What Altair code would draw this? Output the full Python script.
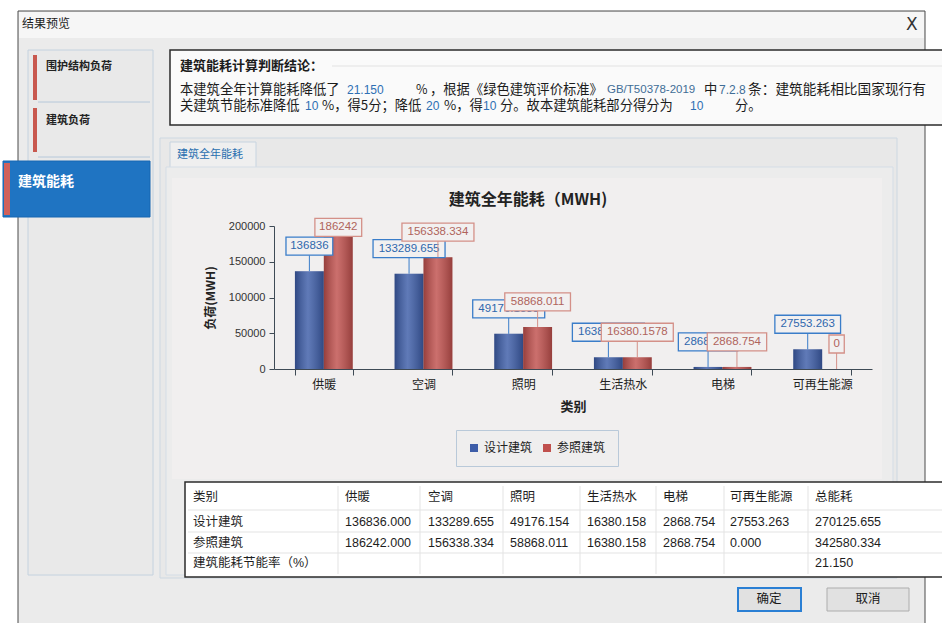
import altair as alt
import pandas as pd

# ---------------- data ----------------
categories = ["供暖", "空调", "照明", "生活热水", "电梯", "可再生能源"]
series = ["设计建筑", "参照建筑"]
design = [136836, 133289.655, 49176.1538, 16380.1578, 2868.754, 27553.263]
reference = [186242, 156338.334, 58868.011, 16380.1578, 2868.754, 0]
table_header = ["类别", "供暖", "空调", "照明", "生活热水", "电梯", "可再生能源", "总能耗"]
row_names = ["设计建筑", "参照建筑", "建筑能耗节能率（%）"]
design_total = 270125.655
reference_total = 342580.334
saving_rate = 21.150
y_ticks = [0, 50000, 100000, 150000, 200000]

# ---------------- layout ----------------
OX, OY = 274, 226          # plot origin in page pixels
PW, PH = 598, 143          # plot size
CJK = "Noto Sans CJK SC"
LAT = "Liberation Sans"
BLACK = "#1c1c1c"
BLUE_T = "#2e6fb4"

one = pd.DataFrame({"k": [0]})


def box(x0, y0, x1, y1, fill, stroke=None, sw=1.0, opacity=1.0):
    kw = dict(fill=fill, fillOpacity=opacity)
    if stroke:
        kw.update(stroke=stroke, strokeWidth=sw)
    return alt.Chart(one).mark_rect(**kw).encode(
        x=alt.value(x0 - OX), x2=alt.value(x1 - OX),
        y=alt.value(y0 - OY), y2=alt.value(y1 - OY))


def line(x0, y0, x1, y1, color, sw=1.0):
    return alt.Chart(one).mark_rule(color=color, strokeWidth=sw).encode(
        x=alt.value(x0 - OX), x2=alt.value(x1 - OX),
        y=alt.value(y0 - OY), y2=alt.value(y1 - OY))


def label(s, x, y, size=12, color=BLACK, weight="normal", align="left", font=CJK):
    return alt.Chart(one).mark_text(
        text=s, align=align, baseline="middle", fontSize=size, color=color,
        fontWeight=weight, font=font).encode(x=alt.value(x - OX), y=alt.value(y - OY))


chrome = []
# dialog
chrome.append(box(18, 11, 925, 640, "#ebebeb", "#4a4a4a", 1))
chrome.append(box(19, 12, 924, 38, "#f6f6f6"))
chrome.append(label("结果预览", 22, 24, 12))
chrome.append(label("X", 906, 25, 17, "#333333", font="DejaVu Sans"))
# left navigation
chrome.append(box(28, 50, 153, 575, "#e9e9e9", "#c4d2df", 1))
chrome.append(box(33, 55, 37, 100, "#c8584e"))
chrome.append(label("围护结构负荷", 46, 67, 11, "#222222", "bold"))
chrome.append(line(38, 102, 150, 102, "#b6c8da"))
chrome.append(box(33, 108, 37, 152, "#c8584e"))
chrome.append(label("建筑负荷", 46, 121, 11, "#222222", "bold"))
chrome.append(line(38, 157, 150, 157, "#b6c8da"))
chrome.append(box(3, 161, 150, 217, "#1f74c2", "#1667b2", 1))
chrome.append(box(4, 163, 10, 215, "#d0605a"))
chrome.append(label("建筑能耗", 18, 182, 14, "#ffffff", "bold"))
# conclusion box
chrome.append(box(170, 50, 946, 125, "#fafafa", "#2b2b2b", 1.5))
chrome.append(label("建筑能耗计算判断结论：", 180, 66, 13, BLACK, "bold"))
chrome.append(line(332, 66, 942, 66, "#e2e2e2"))
L2, L3 = 90, 106
FS = 13.3
chrome += [
    label("本建筑全年计算能耗降低了", 180, L2, FS),
    label("21.150", 347, L2, 12, BLUE_T, font=LAT),
    label("%", 416, L2, 12.5),
    label("，根据《绿色建筑评价标准》", 430, L2, FS),
    label("GB/T50378-2019", 607, L2, 11.5, "#3f6d96", font=LAT),
    label("中", 704, L2, FS),
    label("7.2.8", 719, L2, 12, "#3f6d96", font=LAT),
    label("条：建筑能耗相比国家现行有", 748, L2, FS + 0.4),
    label("关建筑节能标准降低", 180, L3, FS),
    label("10", 305, L3, 12, BLUE_T, font=LAT),
    label("%，得5分；降低", 322, L3, FS),
    label("20", 426, L3, 12, BLUE_T, font=LAT),
    label("%，得", 444, L3, FS),
    label("10", 483, L3, 12, BLUE_T, font=LAT),
    label("分。故本建筑能耗部分得分为", 500, L3, FS),
    label("10", 690, L3, 12, BLUE_T, font=LAT),
    label("分。", 735, L3, FS),
]
# tab + panels
chrome.append(box(160, 138, 897, 578, "#e8e8e8", "#cdd8e2", 1))
chrome.append(box(170, 142, 256, 168, "#efefef", "#c7d4e0", 1))
chrome.append(label("建筑全年能耗", 177, 155, 11, "#2a6fb0"))
chrome.append(box(166, 167, 893, 575, "#ececec", "#d4dde6", 1))
chrome.append(box(172, 178, 882, 479, "#f1efef"))

# ---------------- chart core ----------------
df = pd.DataFrame({
    "cat": categories * 2,
    "series": [series[0]] * len(categories) + [series[1]] * len(categories),
    "value": design + reference,
})

xscale = alt.Scale(domain=categories, paddingInner=0.42, paddingOuter=0.21)
xaxis = alt.Axis(title="类别", orient="bottom", labelAngle=0, labelFontSize=12, labelFont=CJK,
                 labelColor="#222222", titleFont=CJK, titleFontSize=13, titleFontWeight="bold",
                 titleColor="#222222", tickBand="extent", tickSize=6, labelPadding=4,
                 titlePadding=10, domainColor="#3e4a55", tickColor="#3e4a55", zindex=1,
                 grid=False)
yscale = alt.Scale(domain=[0, 200000], nice=False, zero=True)
yaxis = alt.Axis(title="负荷(MWH)", orient="left", values=y_ticks, format="d", labelFontSize=11,
                 labelFont=LAT, labelColor="#333333", titleFont=CJK, titleFontSize=12,
                 titleFontWeight="bold", titleColor="#222222", tickSize=5, labelPadding=4,
                 titlePadding=11, domainColor="#3e4a55", tickColor="#3e4a55", zindex=1,
                 grid=False)
xo = alt.XOffset("series:N", sort=series,
                 scale=alt.Scale(domain=series, paddingInner=0, paddingOuter=0))


def X():
    return alt.X("cat:N", sort=categories, scale=xscale, axis=xaxis)


def Y(field):
    return alt.Y(field, scale=yscale, axis=yaxis)


bars = alt.Chart(df).mark_bar().encode(
    x=X(), xOffset=xo, y=Y("value:Q"),
    color=alt.Color("series:N", sort=series,
                    scale=alt.Scale(domain=series, range=["#3d5da8", "#c0504d"]),
                    legend=alt.Legend(title=None, orient="none", direction="horizontal",
                                      legendX=456 - OX, legendY=430 - OY, symbolType="square",
                                      symbolSize=64, symbolStrokeWidth=0, labelFont=CJK,
                                      labelFontSize=12, labelColor="#222222", padding=12,
                                      columnPadding=8, strokeColor="#b9c9d9",
                                      fillColor="#efeeee")))

shade = alt.Chart(df).mark_bar(
    fill=alt.Gradient(gradient="linear", x1=0, x2=1, y1=0, y2=0, stops=[
        alt.GradientStop(color="rgba(0,0,0,0.22)", offset=0),
        alt.GradientStop(color="rgba(255,255,255,0.18)", offset=0.45),
        alt.GradientStop(color="rgba(0,0,0,0.22)", offset=1)])
).encode(x=X(), xOffset=xo, y=Y("value:Q"))

lab = alt.Chart(df).transform_calculate(
    label="toString(datum.value)",
    lab_y="min(datum.value + 35000, 198000)",
    boxw="length(toString(datum.value)) * 6.3 + 9",
)


def label_layers(name, stroke, tcolor):
    d = lab.transform_filter(alt.datum.series == name)
    leader = d.mark_rule(color=stroke, strokeWidth=1, y2Offset=9).encode(
        x=X(), xOffset=xo, y=Y("value:Q"), y2="lab_y:Q")
    frame = d.mark_bar(fill="#f2f0f0", stroke=stroke, strokeWidth=1.3,
                       yOffset=-9, y2Offset=9).encode(
        x=X(), xOffset=xo, y=Y("lab_y:Q"), y2="lab_y:Q",
        size=alt.Size("boxw:Q", scale=None))
    txt = d.mark_text(color=tcolor, fontSize=11.5, font=LAT).encode(
        x=X(), xOffset=xo, y=Y("lab_y:Q"), text="label:N")
    return [leader, frame, txt]


core = alt.layer(bars, shade,
                 *label_layers(series[0], "#3a7dc9", "#2f67ad"),
                 *label_layers(series[1], "#d49088", "#b0645c"))

title = label("建筑全年能耗（MWH)", 528, 200, 16, "#222222", "bold", align="center")

# ---------------- table ----------------
rows = []
for ci, h in enumerate(table_header):
    rows.append({"ci": ci, "ri": 0, "t": h})
for ri, (nm, vals, tot) in enumerate([(row_names[0], design, design_total),
                                      (row_names[1], reference, reference_total)], start=1):
    rows.append({"ci": 0, "ri": ri, "t": nm})
    for ci, v in enumerate(vals, start=1):
        rows.append({"ci": ci, "ri": ri, "t": f"{v:.3f}"})
    rows.append({"ci": 7, "ri": ri, "t": f"{tot:.3f}"})
rows.append({"ci": 0, "ri": 3, "t": row_names[2]})
rows.append({"ci": 7, "ri": 3, "t": f"{saving_rate:.3f}"})
tdf = pd.DataFrame(rows)

col_px = [193, 345, 428, 510, 587, 663, 730, 815]
row_px = [497, 522, 543, 563]
table_text = alt.Chart(tdf).mark_text(align="left", baseline="middle", fontSize=12.5,
                                      font=LAT + ", " + CJK, color="#1e1e1e").encode(
    x=alt.X("ci:Q", scale=alt.Scale(domain=list(range(len(table_header))),
                                    range=[c - OX for c in col_px]), axis=None),
    y=alt.Y("ri:Q", scale=alt.Scale(domain=list(range(len(row_px))),
                                    range=[r - OY for r in row_px]), axis=None),
    text="t:N")

table_chrome = [box(185, 482, 946, 577, "#ffffff", "#2b2b2b", 1.5)]
for cx in [338, 420, 503, 580, 656, 724, 808]:
    table_chrome.append(line(cx, 486, cx, 574, "#e3e3e3"))
for ry in [510, 532, 553]:
    table_chrome.append(line(188, ry, 942, ry, "#e3e3e3"))

buttons = [
    box(738, 588, 801, 611, "#e1e1e1", "#2a7fd4", 2),
    label("确定", 769, 599, 12.5, "#1a1a1a", align="center"),
    box(827, 588, 909, 611, "#e1e1e1", "#adadad", 1),
    label("取消", 868, 599, 12.5, "#1a1a1a", align="center"),
]

chart = alt.layer(
    *chrome, core, title, *table_chrome, table_text, *buttons
).resolve_scale(x="independent", y="independent").properties(
    width=PW, height=PH,
    autosize=alt.AutoSizeParams(type="none"),
    padding={"left": OX, "top": OY, "right": 942 - OX - PW, "bottom": 623 - OY - PH},
    background="#ffffff",
).configure_view(stroke=None)

chart.save("out.html", embed_options={"renderer": "svg", "actions": False})
